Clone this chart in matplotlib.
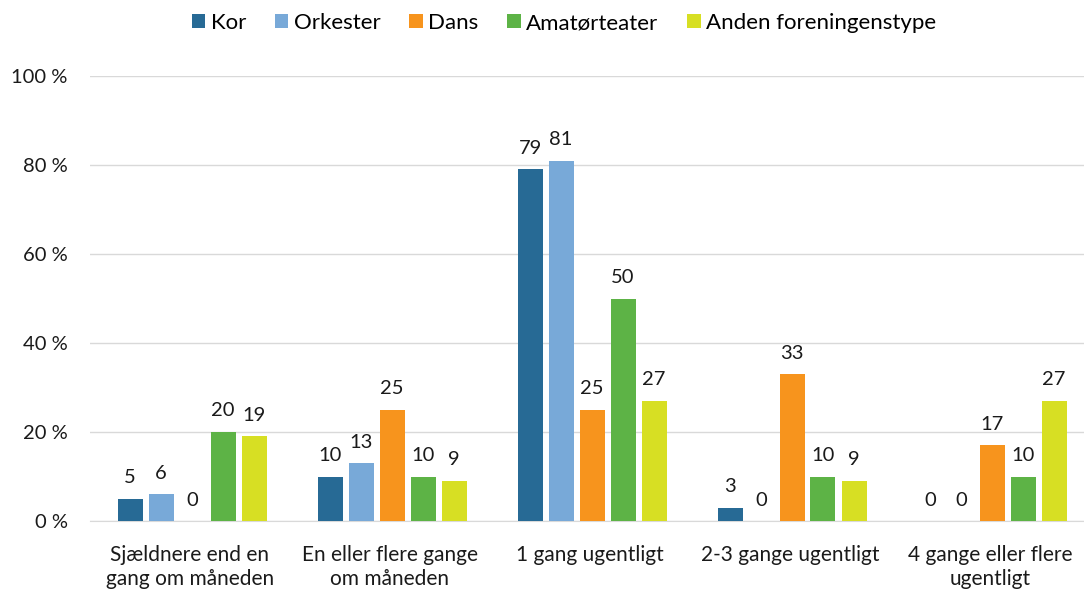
import numpy as np
import matplotlib.pyplot as plt
from matplotlib.ticker import FuncFormatter

plt.rcParams['font.family'] = ['Lato', 'DejaVu Sans']

categories = ['Sjældnere end en\ngang om måneden', 'En eller flere gange\nom måneden',
              '1 gang ugentligt', '2-3 gange ugentligt', '4 gange eller flere\nugentligt']
series = ['Kor', 'Orkester', 'Dans', 'Amatørteater', 'Anden foreningenstype']
kor = [5, 10, 79, 3, 0]
orkester = [6, 13, 81, 0, 0]
dans = [0, 25, 25, 33, 17]
amatoer = [20, 10, 50, 10, 10]
anden = [19, 9, 27, 9, 27]
colors = ['#276a95', '#78a9d8', '#f7941d', '#5db346', '#d7df23']

values = [kor, orkester, dans, amatoer, anden]

fig = plt.figure(figsize=(10.84, 5.92), dpi=100)
ax = fig.add_axes([90 / 1084, 71 / 592, 1000 / 1084, 445 / 592])

x = np.arange(len(categories))
step = 0.155
width = 0.125
for i, (name, vals, c) in enumerate(zip(series, values, colors)):
    pos = x + (i - 2) * step + 0.01
    ax.bar(pos, vals, width, color=c, label=name, zorder=3)
    for p, v in zip(pos, vals):
        ax.annotate(str(v), (p, v), xytext=(0, 9), textcoords='offset points',
                    ha='center', va='bottom', fontsize=14.5, color='#1a1a1a')

ax.set_xlim(-0.5, 4.5)
ax.set_ylim(0, 100)
ax.set_yticks(range(0, 101, 20))
ax.yaxis.set_major_formatter(FuncFormatter(lambda v, _: f'{int(v)} %'))
ax.set_xticks(x)
ax.set_xticklabels(categories, fontsize=15, linespacing=1.3, color='#1a1a1a')
ax.tick_params(axis='y', labelsize=14.5, length=0, pad=16, labelcolor='#1a1a1a')
ax.tick_params(axis='x', length=0, pad=17)
ax.grid(axis='y', color='#d9d9d9', linewidth=1, zorder=0)
for s in ['top', 'right', 'left']:
    ax.spines[s].set_visible(False)
ax.spines['bottom'].set_color('#d9d9d9')

fig.legend(loc='center', bbox_to_anchor=(564 / 1084, 1 - 23 / 592), ncol=5, frameon=False,
           fontsize=16, handlelength=0.6, handleheight=0.6, handletextpad=0.25, columnspacing=1.3)

fig.savefig('out.png', dpi=100)
